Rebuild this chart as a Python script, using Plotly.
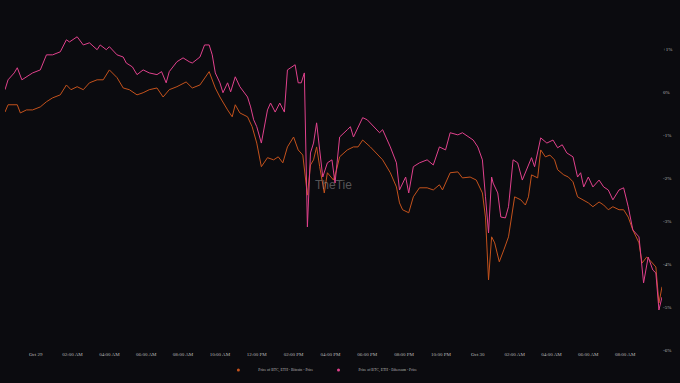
import plotly.graph_objects as go

# ---- data (percent change) ----
eth_time = [
    "2024-10-28 22:20", "2024-10-28 22:30", "2024-10-28 22:50", "2024-10-28 23:00", "2024-10-28 23:15",
    "2024-10-28 23:30", "2024-10-28 23:50", "2024-10-29 00:15", "2024-10-29 00:35", "2024-10-29 00:55",
    "2024-10-29 01:20", "2024-10-29 01:40", "2024-10-29 01:50", "2024-10-29 02:15", "2024-10-29 02:35",
    "2024-10-29 02:55", "2024-10-29 03:20", "2024-10-29 03:30", "2024-10-29 03:50", "2024-10-29 04:00",
    "2024-10-29 04:25", "2024-10-29 04:45", "2024-10-29 04:55", "2024-10-29 05:15", "2024-10-29 05:30",
    "2024-10-29 05:50", "2024-10-29 06:10", "2024-10-29 06:35", "2024-10-29 06:50", "2024-10-29 07:05",
    "2024-10-29 07:15", "2024-10-29 07:40", "2024-10-29 08:00", "2024-10-29 08:20", "2024-10-29 08:30",
    "2024-10-29 08:55", "2024-10-29 09:10", "2024-10-29 09:25", "2024-10-29 09:35", "2024-10-29 09:45",
    "2024-10-29 10:00", "2024-10-29 10:10", "2024-10-29 10:25", "2024-10-29 10:35", "2024-10-29 10:50",
    "2024-10-29 11:05", "2024-10-29 11:30", "2024-10-29 11:40", "2024-10-29 11:50", "2024-10-29 12:00",
    "2024-10-29 12:15", "2024-10-29 12:35", "2024-10-29 12:45", "2024-10-29 13:00", "2024-10-29 13:15",
    "2024-10-29 13:30", "2024-10-29 13:40", "2024-10-29 14:05", "2024-10-29 14:15", "2024-10-29 14:25",
    "2024-10-29 14:35", "2024-10-29 14:45", "2024-10-29 14:55", "2024-10-29 15:05", "2024-10-29 15:15",
    "2024-10-29 15:25", "2024-10-29 15:35", "2024-10-29 15:50", "2024-10-29 16:05", "2024-10-29 16:15",
    "2024-10-29 16:30", "2024-10-29 16:55", "2024-10-29 17:05", "2024-10-29 17:15", "2024-10-29 17:30",
    "2024-10-29 17:45", "2024-10-29 18:00", "2024-10-29 18:20", "2024-10-29 18:40", "2024-10-29 18:50",
    "2024-10-29 19:15", "2024-10-29 19:35", "2024-10-29 19:45", "2024-10-29 20:05", "2024-10-29 20:15",
    "2024-10-29 20:30", "2024-10-29 20:50", "2024-10-29 21:15", "2024-10-29 21:35", "2024-10-29 21:55",
    "2024-10-29 22:15", "2024-10-29 22:30", "2024-10-29 22:55", "2024-10-29 23:10", "2024-10-29 23:30",
    "2024-10-29 23:45", "2024-10-30 00:00", "2024-10-30 00:15", "2024-10-30 00:25", "2024-10-30 00:35",
    "2024-10-30 00:45", "2024-10-30 00:50", "2024-10-30 01:05", "2024-10-30 01:15", "2024-10-30 01:30",
    "2024-10-30 01:40", "2024-10-30 01:55", "2024-10-30 02:10", "2024-10-30 02:25", "2024-10-30 02:40",
    "2024-10-30 02:55", "2024-10-30 03:05", "2024-10-30 03:25", "2024-10-30 03:45", "2024-10-30 04:05",
    "2024-10-30 04:20", "2024-10-30 04:35", "2024-10-30 04:50", "2024-10-30 05:10", "2024-10-30 05:25",
    "2024-10-30 05:35", "2024-10-30 05:45", "2024-10-30 06:00", "2024-10-30 06:15", "2024-10-30 06:35",
    "2024-10-30 06:50", "2024-10-30 07:05", "2024-10-30 07:20", "2024-10-30 07:40", "2024-10-30 07:55",
    "2024-10-30 08:10", "2024-10-30 08:25", "2024-10-30 08:45", "2024-10-30 09:00", "2024-10-30 09:15",
    "2024-10-30 09:30", "2024-10-30 09:40", "2024-10-30 09:50", "2024-10-30 10:00",
]
eth_pct = [
    0.05, 0.28, 0.44, 0.56, 0.28, 0.35, 0.44, 0.51, 0.86, 0.86,
    0.93, 1.21, 1.16, 1.28, 1.09, 1.14, 0.98, 1.09, 0.98, 1.05,
    0.86, 0.81, 0.67, 0.58, 0.40, 0.51, 0.44, 0.40, 0.47, 0.21,
    0.47, 0.70, 0.79, 0.70, 0.67, 0.81, 1.09, 1.09, 0.86, 0.44,
    0.21, -0.02, 0.21, 0.00, 0.35, 0.12, -0.12, -0.35, -0.65, -0.81,
    -1.19, -0.42, -0.26, -0.47, -0.26, -0.47, 0.51, 0.63, 0.21, 0.21,
    0.44, -3.14, -1.42, -1.19, -0.72, -1.35, -1.98, -1.65, -1.58, -2.12,
    -1.05, -0.88, -0.81, -1.05, -0.81, -0.60, -0.65, -0.81, -0.95, -0.88,
    -1.28, -1.65, -2.28, -1.98, -2.35, -1.74, -1.65, -1.58, -1.70, -1.28,
    -1.35, -0.95, -1.00, -0.95, -1.05, -1.12, -1.28, -1.58, -2.44, -3.28,
    -1.98, -2.12, -2.35, -2.91, -2.93, -2.67, -1.58, -1.65, -2.05, -1.81,
    -1.53, -1.74, -1.07, -1.19, -1.12, -1.30, -1.23, -1.42, -1.51, -1.98,
    -1.88, -2.21, -1.98, -2.21, -2.05, -2.21, -2.28, -2.51, -2.28, -2.23,
    -2.67, -3.21, -3.37, -4.44, -3.84, -4.14, -4.21, -5.07, -4.77,
]

btc_time = [
    "2024-10-28 22:20", "2024-10-28 22:30", "2024-10-28 23:00", "2024-10-28 23:10", "2024-10-28 23:30",
    "2024-10-28 23:50", "2024-10-29 00:15", "2024-10-29 00:35", "2024-10-29 00:55", "2024-10-29 01:20",
    "2024-10-29 01:40", "2024-10-29 01:55", "2024-10-29 02:15", "2024-10-29 02:35", "2024-10-29 02:55",
    "2024-10-29 03:20", "2024-10-29 03:40", "2024-10-29 04:00", "2024-10-29 04:25", "2024-10-29 04:45",
    "2024-10-29 05:05", "2024-10-29 05:30", "2024-10-29 05:50", "2024-10-29 06:10", "2024-10-29 06:35",
    "2024-10-29 06:55", "2024-10-29 07:15", "2024-10-29 07:40", "2024-10-29 08:10", "2024-10-29 08:30",
    "2024-10-29 08:55", "2024-10-29 09:25", "2024-10-29 09:45", "2024-10-29 10:00", "2024-10-29 10:25",
    "2024-10-29 10:40", "2024-10-29 10:50", "2024-10-29 11:05", "2024-10-29 11:30", "2024-10-29 11:45",
    "2024-10-29 12:00", "2024-10-29 12:15", "2024-10-29 12:35", "2024-10-29 12:55", "2024-10-29 13:10",
    "2024-10-29 13:25", "2024-10-29 13:40", "2024-10-29 14:00", "2024-10-29 14:15", "2024-10-29 14:30",
    "2024-10-29 14:45", "2024-10-29 14:55", "2024-10-29 15:05", "2024-10-29 15:15", "2024-10-29 15:25",
    "2024-10-29 15:40", "2024-10-29 15:50", "2024-10-29 16:10", "2024-10-29 16:20", "2024-10-29 16:30",
    "2024-10-29 16:55", "2024-10-29 17:15", "2024-10-29 17:30", "2024-10-29 17:45", "2024-10-29 18:10",
    "2024-10-29 18:30", "2024-10-29 18:50", "2024-10-29 19:15", "2024-10-29 19:35", "2024-10-29 19:45",
    "2024-10-29 19:55", "2024-10-29 20:15", "2024-10-29 20:30", "2024-10-29 20:50", "2024-10-29 21:15",
    "2024-10-29 21:35", "2024-10-29 21:55", "2024-10-29 22:05", "2024-10-29 22:30", "2024-10-29 22:55",
    "2024-10-29 23:10", "2024-10-29 23:35", "2024-10-29 23:55", "2024-10-30 00:15", "2024-10-30 00:25",
    "2024-10-30 00:35", "2024-10-30 00:45", "2024-10-30 00:55", "2024-10-30 01:10", "2024-10-30 01:25",
    "2024-10-30 01:40", "2024-10-30 02:00", "2024-10-30 02:20", "2024-10-30 02:35", "2024-10-30 02:45",
    "2024-10-30 02:55", "2024-10-30 03:15", "2024-10-30 03:25", "2024-10-30 03:40", "2024-10-30 03:55",
    "2024-10-30 04:10", "2024-10-30 04:20", "2024-10-30 04:40", "2024-10-30 04:55", "2024-10-30 05:10",
    "2024-10-30 05:25", "2024-10-30 05:45", "2024-10-30 06:00", "2024-10-30 06:15", "2024-10-30 06:35",
    "2024-10-30 06:50", "2024-10-30 07:05", "2024-10-30 07:20", "2024-10-30 07:40", "2024-10-30 07:55",
    "2024-10-30 08:10", "2024-10-30 08:25", "2024-10-30 08:45", "2024-10-30 08:55", "2024-10-30 09:10",
    "2024-10-30 09:20", "2024-10-30 09:40", "2024-10-30 09:50", "2024-10-30 10:00",
]
btc_pct = [
    -0.47, -0.30, -0.30, -0.49, -0.42, -0.42, -0.35, -0.23, -0.14, -0.07,
    0.16, 0.05, 0.12, 0.05, 0.21, 0.28, 0.28, 0.51, 0.33, 0.09,
    0.05, -0.07, -0.02, 0.05, 0.09, -0.12, 0.05, 0.12, 0.23, 0.09,
    0.16, 0.47, 0.09, -0.12, -0.42, -0.58, -0.30, -0.49, -0.58, -0.81,
    -1.19, -1.74, -1.53, -1.58, -1.51, -1.65, -1.28, -1.05, -1.35, -1.47,
    -2.40, -1.70, -1.58, -1.28, -1.74, -2.35, -1.88, -2.05, -1.81, -1.51,
    -1.35, -1.28, -1.28, -1.12, -1.28, -1.42, -1.58, -1.88, -2.21, -2.58,
    -2.74, -2.81, -2.44, -2.23, -2.23, -2.28, -2.16, -2.28, -1.88, -1.86,
    -2.00, -1.98, -2.05, -2.35, -2.91, -4.37, -3.37, -3.51, -3.95, -3.67,
    -3.37, -2.44, -2.51, -2.63, -2.44, -1.93, -2.00, -1.35, -1.51, -1.47,
    -1.58, -1.81, -1.93, -1.98, -2.09, -2.44, -2.51, -2.58, -2.67, -2.56,
    -2.63, -2.74, -2.67, -2.74, -2.74, -2.91, -3.21, -3.51, -3.98, -3.84,
    -3.91, -4.07, -4.91, -4.53,
]

x_tick_vals = [
    "2024-10-29 00:00", "2024-10-29 02:00", "2024-10-29 04:00", "2024-10-29 06:00",
    "2024-10-29 08:00", "2024-10-29 10:00", "2024-10-29 12:00", "2024-10-29 14:00",
    "2024-10-29 16:00", "2024-10-29 18:00", "2024-10-29 20:00", "2024-10-29 22:00",
    "2024-10-30 00:00", "2024-10-30 02:00", "2024-10-30 04:00", "2024-10-30 06:00",
    "2024-10-30 08:00",
]
x_tick_text = [
    "Oct 29", "02:00 AM", "04:00 AM", "06:00 AM", "08:00 AM", "10:00 AM", "12:00 PM",
    "02:00 PM", "04:00 PM", "06:00 PM", "08:00 PM", "10:00 PM", "Oct 30", "02:00 AM",
    "04:00 AM", "06:00 AM", "08:00 AM",
]
y_tick_vals = [1, 0, -1, -2, -3, -4, -5, -6]
y_tick_text = ["+1%", "0%", "-1%", "-2%", "-3%", "-4%", "-5%", "-6%"]

series_names = ["Price of BTC, ETH - Bitcoin - Price", "Price of BTC, ETH - Ethereum - Price"]

BG = "#0b0b0f"
ORANGE = "#c4521c"
PINK = "#e0418c"
FONT = "Liberation Serif"

fig = go.Figure()
fig.add_trace(go.Scatter(
    x=btc_time, y=btc_pct, mode="lines", name=series_names[0],
    line=dict(color=ORANGE, width=1), showlegend=False, legendgroup="btc",
))
fig.add_trace(go.Scatter(
    x=eth_time, y=eth_pct, mode="lines", name=series_names[1],
    line=dict(color=PINK, width=1), showlegend=False, legendgroup="eth",
))
# legend entries with small dot symbols
fig.add_trace(go.Scatter(
    x=[None], y=[None], mode="markers", name=series_names[0], legendgroup="btc",
    marker=dict(color=ORANGE, size=3),
))
fig.add_trace(go.Scatter(
    x=[None], y=[None], mode="markers", name=series_names[1], legendgroup="eth",
    marker=dict(color=PINK, size=3),
))

fig.add_annotation(
    x=0.5, y=0.5, xref="paper", yref="paper",
    text="TheTie", showarrow=False,
    font=dict(family="Liberation Sans", size=12, color="rgba(150,150,150,0.55)"),
)

fig.update_layout(
    width=680, height=383,
    paper_bgcolor=BG, plot_bgcolor=BG,
    margin=dict(l=5, r=18, t=20, b=33, autoexpand=False),
    font=dict(family=FONT, size=5, color="#b8b8b8"),
    showlegend=True,
    legend=dict(
        orientation="h", x=0.48, xanchor="center",
        yref="container", y=0.034, yanchor="middle",
        font=dict(family=FONT, size=3.8, color="#b8b8b8"),
        bgcolor="rgba(0,0,0,0)", itemwidth=30, tracegroupgap=0,
    ),
    xaxis=dict(
        range=["2024-10-28 22:20", "2024-10-30 10:00"],
        tickvals=x_tick_vals, ticktext=x_tick_text,
        showgrid=False, zeroline=False, showline=False, ticks="",
        automargin=False,
        tickfont=dict(family=FONT, size=5, color="#b8b8b8"),
    ),
    yaxis=dict(
        side="right", range=[-6, 1.67],
        tickvals=y_tick_vals, ticktext=y_tick_text,
        showgrid=False, zeroline=False, showline=False, ticks="",
        automargin=False,
        tickfont=dict(family=FONT, size=5, color="#b8b8b8"),
    ),
)

fig.write_html("out.html")
